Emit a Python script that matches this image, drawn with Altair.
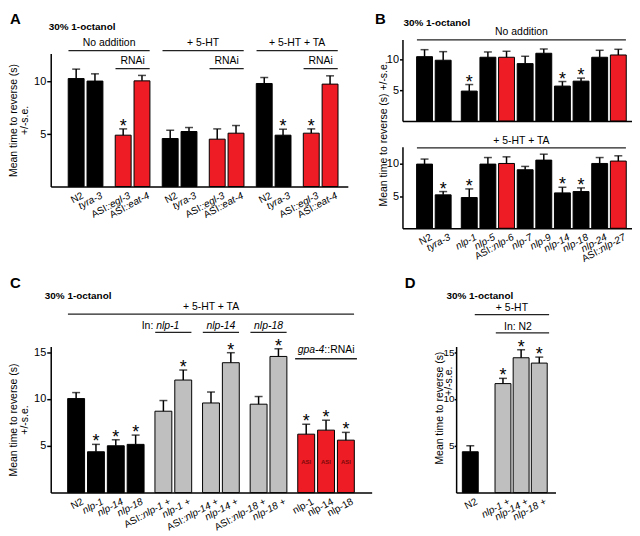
import math
import altair as alt
import pandas as pd

FONT = "Liberation Sans"
RED = "#ee1c24"
GRAY = "#bfbfbf"
LINE = "#222222"

# ---------------- values ----------------
a_names = ["N2", "tyra-3", "ASI::egl-3", "ASI::eat-4"] * 3
a_kind = ["black", "black", "red", "red"] * 3
a_vals = [10.3, 10.06, 4.9, 10.08, 4.58, 5.25, 4.52, 5.09, 9.83, 4.9, 5.09, 9.77]
a_se = [0.9, 0.69, 0.6, 0.52, 0.79, 0.38, 0.98, 0.73, 0.57, 0.57, 0.41, 0.79]
a_star = [0, 0, 1, 0, 0, 0, 0, 0, 0, 1, 1, 0]
a_groups = ["No addition", "+ 5-HT", "+ 5-HT + TA"]

b_names = ["N2", "tyra-3", "nlp-1", "nlp-5", "ASI::nlp-6", "nlp-7", "nlp-9",
           "nlp-14", "nlp-18", "nlp-24", "ASI::nlp-27"]
b_kind = ["black"] * 4 + ["red"] + ["black"] * 5 + ["red"]
b1_vals = [10.42, 9.84, 4.84, 10.32, 10.32, 9.29, 10.97, 5.65, 6.45, 10.32, 10.69]
b1_se = [1.13, 1.39, 1.06, 0.86, 0.97, 1.19, 0.69, 0.74, 0.49, 1.13, 0.92]
b1_star = [0, 0, 1, 0, 0, 0, 0, 1, 1, 0, 0]
b2_vals = [9.98, 5.2, 4.78, 9.98, 10.08, 9.1, 10.6, 5.5, 5.71, 10.08, 10.45]
b2_se = [0.78, 0.51, 1.34, 1.02, 1.03, 0.52, 0.92, 0.88, 0.57, 0.92, 0.82]
b2_star = [0, 1, 1, 0, 0, 0, 0, 1, 1, 0, 0]

c_names = ["N2", "nlp-1", "nlp-14", "nlp-18", "ASI::nlp-1 +", "nlp-1 +",
           "ASI::nlp-14 +", "nlp-14 +", "ASI::nlp-18 +", "nlp-18 +",
           "nlp-1", "nlp-14", "nlp-18"]
c_kind = ["black"] * 4 + ["gray"] * 6 + ["red"] * 3
c_group = [0, 0, 0, 0, 1, 1, 2, 2, 3, 3, 4, 4, 4]
c_vals = [10.04, 4.36, 5.0, 5.15, 8.69, 12.02, 9.57, 13.87, 9.44, 14.54, 6.24, 6.67, 5.6]
c_se = [0.64, 0.79, 0.64, 0.99, 1.14, 1.07, 1.17, 1.07, 0.82, 0.82, 1.07, 1.06, 0.83]
c_star = [0, 1, 1, 1, 0, 1, 0, 1, 0, 1, 1, 1, 1]

d_names = ["N2", "nlp-1 +", "nlp-14 +", "nlp-18 +"]
d_kind = ["black", "gray", "gray", "gray"]
d_group = [0, 1, 1, 1]
d_vals = [4.36, 11.64, 14.4, 13.83]
d_se = [0.64, 0.56, 0.86, 0.64]
d_star = [0, 1, 1, 1]

YTITLE = "Mean time to reverse (s)"
SE = "+/-s.e."
ODOR = "30% 1-octanol"

# ---------------- helpers ----------------
CW = {' ': 278, '+': 584, '-': 333, '.': 278, '/': 278, ':': 278, '(': 333, ')': 333,
      '%': 889, 'A': 667, 'I': 278, 'N': 722, 'R': 722, 'S': 667, 'M': 833,
      'a': 556, 'c': 500, 'd': 556, 'e': 556, 'g': 556, 'i': 222, 'l': 222,
      'm': 833, 'n': 556, 'o': 556, 'p': 556, 'r': 333, 's': 500, 't': 278,
      'v': 500, 'y': 500}


def tw(s, fs):
    return sum(CW.get(ch, 556) for ch in s) * fs / 1000.0


ANG = 28.0
COS = math.cos(math.radians(ANG))
SIN = math.sin(math.radians(ANG))
LFS = 10
LDX, LDY = 4.5, 4.0


class Panel:
    def __init__(self, W, H, xdom, ydom, bw, yticks, ytitle=None, tpad=4, yrange=None,
                 tick=4, lpad=1, lfs=11):
        self.W, self.H, self.xdom, self.ydom, self.bw = W, H, xdom, ydom, bw
        self.custom = yrange is not None
        self.yr = yrange if yrange else [H, 0]
        self.pxu = W / (xdom[1] - xdom[0])
        self.xs = alt.Scale(domain=xdom, nice=False, zero=False)
        if self.custom:
            self.ys = alt.Scale(domain=ydom, nice=False, zero=False, range=self.yr)
        else:
            self.ys = alt.Scale(domain=ydom, nice=False, zero=False)
        self.xaxis = alt.Axis(labels=False, ticks=False, title=None, grid=False,
                              domainColor="black", domainWidth=1.5)
        kw = dict(values=yticks, grid=False, domainColor="black", domainWidth=1.5,
                  tickColor="black", tickWidth=1.5, tickSize=tick, labelFont=FONT,
                  labelFontSize=lfs, labelColor="black", labelPadding=lpad)
        if ytitle is not None:
            kw.update(title=ytitle, titleFont=FONT, titleFontSize=10.5,
                      titleFontWeight="normal", titleColor="black",
                      titlePadding=tpad, titleLineHeight=11)
        else:
            kw.update(title=None)
        self.yaxis = alt.Axis(**kw)

    def X(self, f):
        return alt.X(f, scale=self.xs, axis=self.xaxis)

    def Y(self, f):
        return alt.Y(f, scale=self.ys, axis=self.yaxis)

    def xd(self, pos, dpx):
        return pos + dpx / self.pxu

    def yd(self, below):
        r0, r1 = self.yr
        return -below * (self.ydom[1] - self.ydom[0]) / (r0 - r1)

    def span(self, pos, i, j, ext=0.0):
        return (self.xd(pos[i], -self.bw / 2 - ext), self.xd(pos[j], self.bw / 2 + ext))


def bars_df(names, kind, vals, se, star, pos):
    return pd.DataFrame({"name": names, "kind": kind, "val": vals,
                         "top": [v + s for v, s in zip(vals, se)],
                         "star": star, "pos": pos})


def core(P, df):
    base = alt.Chart(df)
    bars = base.mark_bar(size=P.bw, stroke="black", strokeWidth=1).encode(
        x=P.X("pos:Q"), y=P.Y("val:Q"),
        color=alt.Color("kind:N", legend=None,
                        scale=alt.Scale(domain=["black", "red", "gray"],
                                        range=["#000000", RED, GRAY])))
    err = base.mark_rule(color="black", strokeWidth=1.5).encode(
        x=P.X("pos:Q"), y=P.Y("val:Q"), y2="top:Q")
    cap = base.mark_tick(orient="horizontal", size=8, thickness=1.5, color="black").encode(
        x=P.X("pos:Q"), y=P.Y("top:Q"))
    star = alt.Chart(df[df.star == 1]).mark_text(
        text="*", fontSize=18, font=FONT, baseline="alphabetic", dy=3, color="black").encode(
        x=P.X("pos:Q"), y=P.Y("top:Q"))
    return [bars, err, cap, star]


def segments(name, plain):
    if plain or name == "N2":
        return [(name, "normal")]
    if name.startswith("ASI::"):
        return [("ASI::", "normal"), (name[5:], "italic")]
    return [(name, "italic")]


def label_layers(P, names, pos, plain):
    rows = []
    for nm, p, pl in zip(names, pos, plain):
        after = 0.0
        for txt, st in reversed(segments(nm, pl)):
            rows.append({"lx": P.xd(p, LDX - COS * after),
                         "ly": P.yd(LDY + SIN * after), "t": txt, "s": st})
            after += tw(txt, LFS)
    ldf = pd.DataFrame(rows)
    out = []
    for st in ["normal", "italic"]:
        sub = ldf[ldf.s == st]
        if len(sub) == 0:
            continue
        out.append(alt.Chart(sub).mark_text(
            angle=360 - ANG, align="right", baseline="top", fontSize=LFS, font=FONT,
            fontStyle=st, color="black").encode(
            x=P.X("lx:Q"), y=P.Y("ly:Q"), text="t:N"))
    return out


def htext(P, items, y, fs=10.5, **kw):
    df = pd.DataFrame({"t": [i[0] for i in items], "x": [i[1] for i in items]})
    return alt.Chart(df).mark_text(fontSize=fs, font=FONT, baseline="middle",
                                   color="black", **kw).encode(
        x=P.X("x:Q"), y=alt.value(y), text="t:N")


def hline(P, spans, y):
    df = pd.DataFrame({"x1": [s[0] for s in spans], "x2": [s[1] for s in spans]})
    return alt.Chart(df).mark_rule(color=LINE, strokeWidth=1.3).encode(
        x=P.X("x1:Q"), x2="x2:Q", y=alt.value(y))


def ftext(txt, x, y, **kw):
    return alt.Chart(pd.DataFrame({"t": [txt]})).mark_text(
        font=FONT, color="black", **kw).encode(x=alt.value(x), y=alt.value(y), text="t:N")


def vtitle(txt, x, y):
    return ftext(txt, x, y, fontSize=10.5, angle=270, align="center", baseline="middle")


def letter(txt, x, y):
    return ftext(txt, x, y, fontSize=15, fontWeight="bold", align="left", baseline="top")


def odor(x, y):
    return ftext(ODOR, x, y, fontSize=10, fontWeight="bold", align="left", baseline="middle")


# ---------------- panel A ----------------
PA = Panel(299, 148, [-1.088, 14.18], [0, 12.7], 16, [5, 10], [YTITLE, SE], tpad=4,
           yrange=[148, 14])
a_pos = [i + 0.5 * (i // 2) for i in range(len(a_names))]
dfa = bars_df(a_names, a_kind, a_vals, a_se, a_star, a_pos)
a_layers = core(PA, dfa)
a_layers += label_layers(PA, a_names, a_pos, [False] * len(a_names))
grp_sp = [PA.span(a_pos, 4 * k, 4 * k + 3) for k in range(3)]
rna_sp = [PA.span(a_pos, 4 * k + 2, 4 * k + 3) for k in range(3)]
a_layers += [
    hline(PA, grp_sp, 11.3),
    htext(PA, [(g, (s[0] + s[1]) / 2) for g, s in zip(a_groups, grp_sp)], 4),
    hline(PA, rna_sp, 29.3),
    htext(PA, [("RNAi", (s[0] + s[1]) / 2) for s in rna_sp], 22),
    odor(-2, -13),
    letter("A", -41, -28),
]
chartA = alt.layer(*a_layers).properties(width=PA.W, height=PA.H)

# ---------------- panel B ----------------
PB1 = Panel(231, 82, [-0.918, 10.868], [0, 13.2], 16, [5, 10], tick=3, lpad=1)
PB2 = Panel(231, 82, [-0.918, 10.868], [0, 12.67], 16, [5, 10], tick=3, lpad=1)
b_pos = [i + (0.4 if i >= 2 else 0.0) for i in range(len(b_names))]
dfb1 = bars_df(b_names, b_kind, b1_vals, b1_se, b1_star, b_pos)
dfb2 = bars_df(b_names, b_kind, b2_vals, b2_se, b2_star, b_pos)
sp1 = PB1.span(b_pos, 0, len(b_names) - 1)
b1_layers = core(PB1, dfb1) + [
    hline(PB1, [sp1], 0.3),
    htext(PB1, [("No addition", (sp1[0] + sp1[1]) / 2)], -8),
    odor(1, -16.3),
    letter("B", -27.7, -28),
    vtitle(YTITLE + " " + SE, -18.5, 95),
]
chartB1 = alt.layer(*b1_layers).properties(width=PB1.W, height=PB1.H)
sp2 = PB2.span(b_pos, 0, len(b_names) - 1)
b2_layers = core(PB2, dfb2) + label_layers(PB2, b_names, b_pos, [False] * len(b_names)) + [
    hline(PB2, [sp2], 1.0),
    htext(PB2, [("+ 5-HT + TA", (sp2[0] + sp2[1]) / 2)], -6),
]
chartB2 = alt.layer(*b2_layers).properties(width=PB2.W, height=PB2.H)

# ---------------- panel C ----------------
PC = Panel(323, 147, [-1.03, 14.65], [0, 15.6], 17, [5, 10, 15], [YTITLE, SE], tpad=4)
c_pos = [i + 0.4 * g for i, g in enumerate(c_group)]
dfc = bars_df(c_names, c_kind, c_vals, c_se, c_star, c_pos)
c_layers = core(PC, dfc)
c_layers += label_layers(PC, c_names, c_pos, [k == "red" for k in c_kind])
spc = PC.span(c_pos, 0, len(c_names) - 1)
in1 = PC.span(c_pos, 4, 5)
in14 = PC.span(c_pos, 6, 7)
in18 = PC.span(c_pos, 8, 9)
gpa = PC.span(c_pos, 10, 12, ext=3)
gmid = (gpa[0] + gpa[1]) / 2
w_gpa, w_rnai = tw("gpa-4", 10.5), tw("::RNAi", 10.5)
gsplit = gmid + ((w_gpa - w_rnai) / 2) / PC.pxu
c_layers += [
    hline(PC, [spc], -32.7),
    htext(PC, [("+ 5-HT + TA", (spc[0] + spc[1]) / 2)], -39.3),
    hline(PC, [in1, in14, in18], -14.3),
    htext(PC, [("In:", PC.xd(in1[0], -2))], -21, align="right"),
    htext(PC, [("nlp-1", PC.xd(in1[0], 1))], -21, align="left", fontStyle="italic"),
    htext(PC, [("nlp-14", (in14[0] + in14[1]) / 2), ("nlp-18", (in18[0] + in18[1]) / 2)],
          -21, align="center", fontStyle="italic"),
    hline(PC, [gpa], 12.3),
    htext(PC, [("gpa-4", gsplit)], 4, align="right", fontStyle="italic"),
    htext(PC, [("::RNAi", gsplit)], 4, align="left"),
    alt.Chart(dfc[dfc.kind == "red"]).mark_text(
        text="ASI", fontSize=6, fontWeight="bold", color="#7a0a0a", font=FONT,
        baseline="middle").encode(x=PC.X("pos:Q"), y=alt.value(116)),
    odor(-6, -51),
    letter("C", -41, -71),
]
chartC = alt.layer(*c_layers).properties(width=PC.W, height=PC.H)

# ---------------- panel D ----------------
PD = Panel(100, 147, [-0.507, 4.42], [0, 15.6], 16, [5, 10, 15], tick=2, lpad=0,
           lfs=10)
d_pos = [i + 0.8 * g for i, g in enumerate(d_group)]
dfd = bars_df(d_names, d_kind, d_vals, d_se, d_star, d_pos)
d_layers = core(PD, dfd)
d_layers += label_layers(PD, d_names, d_pos, [False] * len(d_names))
sp5 = (PD.xd(d_pos[0], 5), PD.xd(d_pos[3], PD.bw / 2 + 3))
spn2 = (PD.xd(d_pos[1], -PD.bw / 2), PD.xd(d_pos[3], PD.bw / 2 + 3))
d_layers += [
    hline(PD, [sp5], -32),
    htext(PD, [("+ 5-HT", (sp5[0] + sp5[1]) / 2)], -39),
    hline(PD, [spn2], -13.7),
    htext(PD, [("In: N2", (spn2[0] + spn2[1]) / 2 - 0.25)], -20),
    vtitle(YTITLE, -16.5, 62),
    vtitle(SE, -7, 35),
    odor(-9.7, -51),
    letter("D", -51.7, -71),
]
chartD = alt.layer(*d_layers).properties(width=PD.W, height=PD.H)

# ---------------- layout ----------------
colB = alt.vconcat(chartB1, chartB2, spacing=26, bounds="flush")
top = alt.hconcat(chartA, colB, spacing=55, bounds="flush")
bottom = alt.hconcat(chartC, chartD, spacing=85, bounds="flush")
chart = alt.vconcat(top, bottom, spacing=11).properties(
    padding={"left": 0, "top": 2, "right": 0, "bottom": 0}).configure_view(stroke=None)

chart.save("out.html", embed_options={"renderer": "svg", "actions": False})
